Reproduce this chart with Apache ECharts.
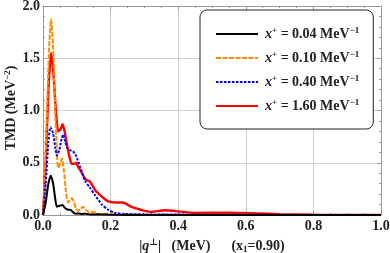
<!DOCTYPE html>
<html><head><meta charset="utf-8">
<script src="https://cdn.jsdelivr.net/npm/echarts@6/dist/echarts.min.js"></script>
<style>html,body{margin:0;padding:0;background:#fff}#c{width:390px;height:253px}</style>
</head><body><div id="c"></div>
<script>
const xTicks = [0, 0.2, 0.4, 0.6, 0.8, 1.0];
const yTicks = [0, 0.5, 1.0, 1.5, 2.0];
const seriesNames = ['0.04', '0.10', '0.40', '1.60'];
const black004 = [[0,0],[0.008,0.12],[0.016,0.3],[0.023,0.376],[0.03,0.3],[0.036,0.16],[0.041,0.08],[0.05,0.09],[0.058,0.096],[0.064,0.07],[0.070,0.055],[0.076,0.05],[0.082,0.048],[0.088,0.03],[0.095,0.012],[0.105,0.015],[0.115,0.01],[0.125,0.012],[0.14,0.005],[0.16,0.006],[0.2,0.002],[0.3,0],[1,0]];
const orange010 = [[0,0],[0.006,0.4],[0.012,1.0],[0.018,1.6],[0.024,1.87],[0.03,1.6],[0.036,1.0],[0.041,0.62],[0.045,0.45],[0.052,0.5],[0.056,0.54],[0.062,0.42],[0.068,0.22],[0.074,0.12],[0.08,0.14],[0.086,0.16],[0.092,0.12],[0.098,0.06],[0.104,0.04],[0.112,0.06],[0.118,0.08],[0.126,0.05],[0.134,0.03],[0.14,0.02],[0.15,0.03],[0.16,0.015],[0.17,0.005],[0.18,0.01],[0.2,0.015],[0.22,0.005],[0.25,0.008],[0.3,0.003],[0.4,0.002],[1,0]];
const blue040 = [[0,0],[0.008,0.3],[0.016,0.7],[0.022,0.84],[0.03,0.78],[0.036,0.65],[0.041,0.57],[0.048,0.62],[0.055,0.73],[0.06,0.77],[0.066,0.7],[0.072,0.64],[0.08,0.62],[0.088,0.61],[0.096,0.58],[0.11,0.46],[0.124,0.33],[0.139,0.26],[0.154,0.19],[0.174,0.1],[0.193,0.05],[0.213,0.02],[0.243,0.01],[0.3,0.006],[0.4,0.004],[0.5,0.003],[0.7,0.001],[1,0]];
const red160 = [[0,0],[0.008,0.5],[0.016,1.2],[0.024,1.55],[0.031,1.35],[0.038,1.0],[0.045,0.8],[0.052,0.82],[0.058,0.87],[0.064,0.8],[0.070,0.69],[0.078,0.56],[0.085,0.49],[0.092,0.49],[0.098,0.5],[0.104,0.46],[0.110,0.43],[0.124,0.35],[0.132,0.33],[0.139,0.32],[0.154,0.24],[0.169,0.19],[0.18,0.16],[0.193,0.13],[0.213,0.12],[0.237,0.12],[0.26,0.08],[0.29,0.05],[0.32,0.03],[0.36,0.045],[0.4,0.035],[0.45,0.02],[0.55,0.022],[0.63,0.015],[0.7,0.008],[0.8,0.003],[1,0]];

const serif = '"Liberation Serif", "DejaVu Serif", serif';
const FS = 14;
const chart = echarts.init(document.getElementById('c'), null, {renderer:'canvas'});
const frame = '#999';
function axisCommon(extra){
  return Object.assign({
    axisLine:{show:true, onZero:false, lineStyle:{color:frame, width:1}},
    axisTick:{show:true, inside:true, length:4, lineStyle:{color:frame}},
    minorTick:{show:true, length:2, lineStyle:{color:frame}},
    splitLine:{show:false},
    axisLabel:{show:false}
  }, extra);
}
const lbl = {show:true, color:'#222', fontFamily:serif, fontWeight:'bold', fontSize:FS};
const names = ['black004','orange010','blue040','red160'];
const datas = [black004, orange010, blue040, red160];
const colors = ['#000000','#ff8c00','#0000ff','#ff0000'];
const types = ['solid',[5,1.5],[2.5,1.5],'solid'];
const widths = [2,2,2,2.4];
const legendLabels = seriesNames.map(v => '{i|x}{s|+} = ' + v + ' MeV{s|\u22121}');
const yTitle = '{a|TMD (MeV}{s|\u22122}{a|)}';
chart.setOption({
  animation:false,
  grid:{left:43, right:9, top:6, bottom:38, containLabel:false, outerBoundsMode:'none'},
  graphic:[{
    type:'text', x:11, y:108, rotation:Math.PI/2, z:10,
    style:{text:yTitle, align:'center', verticalAlign:'middle', fill:'#222',
      font:'bold 14px "Liberation Serif", serif',
      rich:{
        a:{fontFamily:serif, fontWeight:'bold', fontSize:FS, fill:'#222'},
        s:{fontFamily:serif, fontWeight:'bold', fontSize:9, fill:'#222', padding:[0,0,7,0]}
      }}
  }],
  xAxis:[
    axisCommon({type:'value', min:0, max:1, interval:0.2, position:'bottom', minorTick:{show:true, splitNumber:4, length:2, lineStyle:{color:frame}},
      splitLine:{show:true, lineStyle:{color:'#d0d0d0', width:1}},
      axisLabel:Object.assign({}, lbl, {margin:4, formatter:v=>v.toFixed(1)}),
      name:'{a||}{q|q}{s|\u22a5}{a||   (MeV)      (x}{sub|1}{a|=0.90)}', nameLocation:'middle', nameGap:19,
      nameTextStyle:{fontFamily:serif, fontWeight:'bold', fontSize:FS, color:'#222', rich:{
        a:{fontFamily:serif, fontWeight:'bold', fontSize:FS, color:'#222'},
        q:{fontFamily:serif, fontWeight:'bold', fontStyle:'italic', fontSize:FS, color:'#222'},
        s:{fontFamily:serif, fontWeight:'bold', fontSize:9, color:'#222', padding:[0,0,7,0]},
        sub:{fontFamily:serif, fontWeight:'bold', fontSize:9, color:'#222', padding:[7,0,0,0]}
      }}
    }),
    axisCommon({type:'value', min:0, max:1, interval:0.2, position:'top', minorTick:{show:true, splitNumber:4, length:2, lineStyle:{color:frame}}})
  ],
  yAxis:[
    axisCommon({type:'value', min:0, max:2, interval:0.5, position:'left', minorTick:{show:true, splitNumber:5, length:2, lineStyle:{color:frame}},
      splitLine:{show:true, lineStyle:{color:'#d0d0d0', width:1}},
      axisLabel:Object.assign({}, lbl, {margin:3, formatter:v=>v.toFixed(1)})
    }),
    axisCommon({type:'value', min:0, max:2, interval:0.5, position:'right', minorTick:{show:true, splitNumber:5, length:2, lineStyle:{color:frame}}})
  ],
  legend:{
    show:true, orient:'vertical', left:200, top:10,
    backgroundColor:'#fff', borderColor:'#222', borderWidth:1, borderRadius:7,
    padding:[16,14,16,15], itemGap:9, itemWidth:42, itemHeight:14,
    data:names,
    itemStyle:{opacity:0},
    formatter: n => legendLabels[names.indexOf(n)],
    textStyle:{fontFamily:serif, fontWeight:'bold', fontSize:FS, color:'#222', padding:[0,0,0,2], rich:{
      i:{fontFamily:serif, fontWeight:'bold', fontStyle:'italic', fontSize:FS, color:'#222'},
      s:{fontFamily:serif, fontWeight:'bold', fontSize:9, color:'#222', padding:[0,0,7,0]}
    }}
  },
  series: names.map((n,i)=>({
    name:n, type:'line', data:datas[i], symbol:'none', showSymbol:false, smooth:0.2,
    xAxisIndex:0, yAxisIndex:0, z: [5,3,4,2][i],
    lineStyle:{color:colors[i], width:widths[i], type:types[i]}, itemStyle:{color:colors[i]}
  }))
});
</script></body></html>
